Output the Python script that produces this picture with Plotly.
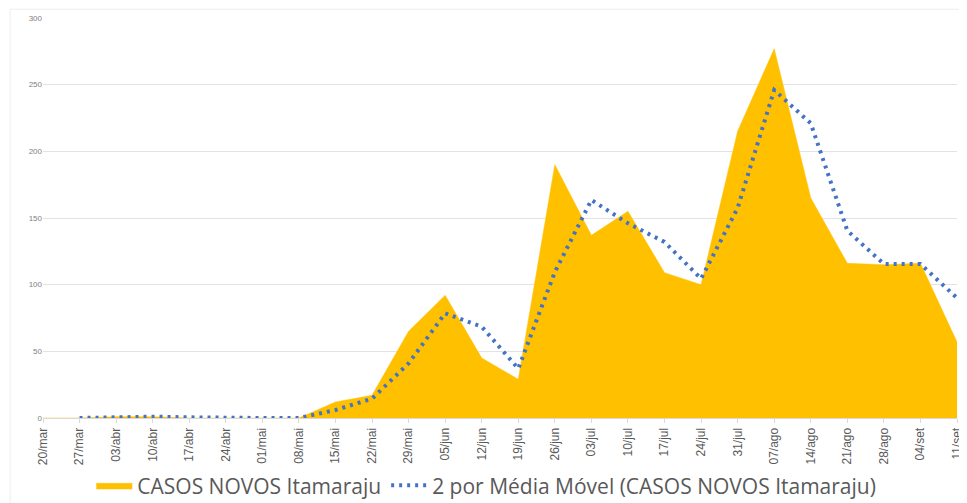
import plotly.graph_objects as go

categories = ["20/mar", "27/mar", "03/abr", "10/abr", "17/abr", "24/abr", "01/mai", "08/mai",
              "15/mai", "22/mai", "29/mai", "05/jun", "12/jun", "19/jun", "26/jun", "03/jul",
              "10/jul", "17/jul", "24/jul", "31/jul", "07/ago", "14/ago", "21/ago", "28/ago",
              "04/set", "11/set"]

casos_novos = [0, 0, 1, 1, 0, 0, 0, 0, 12, 17, 65, 92, 45, 29, 190, 137, 155, 109, 100, 215,
               277, 165, 116, 115, 116, 57]

media_movel_cats = categories[1:]
media_movel = [0, 0.5, 1, 0.5, 0, 0, 0, 6, 14.5, 41, 78.5, 68.5, 37, 109.5, 163.5, 146, 132,
               104.5, 157.5, 246, 221, 140.5, 115.5, 115.5, 90]

y_ticks = [0, 50, 100, 150, 200, 250, 300]

fig = go.Figure()
fig.add_trace(go.Scatter(
    x=categories, y=casos_novos, mode="lines", fill="tozeroy",
    line=dict(color="#FFC000", width=0.5), fillcolor="#FFC000",
    name="CASOS NOVOS Itamaraju",
))
fig.add_trace(go.Scatter(
    x=media_movel_cats, y=media_movel, mode="lines",
    line=dict(color="#4472C4", width=4, dash="3px,5px"),
    name="2 por Média Móvel (CASOS NOVOS Itamaraju)",
))

fig.update_layout(
    width=959, height=495,
    margin=dict(l=35, r=10, t=10, b=85, autoexpand=False),
    paper_bgcolor="white", plot_bgcolor="white",
    showlegend=True,
    legend=dict(orientation="h", x=0.485, xanchor="center", y=-0.118, yanchor="top",
                bgcolor="rgba(0,0,0,0)",
                font=dict(family="Open Sans, sans-serif", size=21, color="#595959"),
                itemwidth=36, tracegroupgap=0),
    xaxis=dict(type="category", categoryorder="array", categoryarray=categories,
               range=[0, 25], showgrid=False, showline=True, linecolor="#D9D9D9",
               ticks="outside", ticklen=4, tickcolor="#D9D9D9", tickangle=-90,
               tickfont=dict(family="Liberation Sans Narrow, Arial Narrow, sans-serif", size=12, color="#595959")),
    yaxis=dict(range=[0, 300], tickvals=y_ticks, ticktext=[str(v) for v in y_ticks],
               showgrid=True, gridcolor="#E3E3E3", gridwidth=1, zeroline=False,
               showline=False, ticks="",
               tickfont=dict(family="Liberation Sans Narrow, Arial Narrow, sans-serif", size=8, color="#7F7F7F")),
    shapes=[dict(type="rect", xref="paper", yref="paper", x0=-0.036, x1=1.1, y0=-0.3, y1=1.022,
                 line=dict(color="#EDEDED", width=1), layer="below")],
)

fig.write_html("out.html")
